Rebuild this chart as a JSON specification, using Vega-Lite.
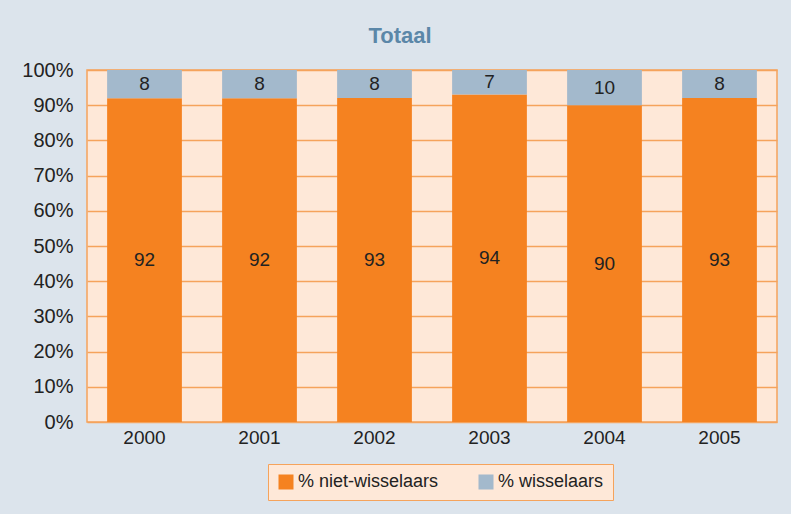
{
  "$schema": "https://vega.github.io/schema/vega-lite/v6.json",
  "width": 690,
  "height": 352,
  "autosize": {"type": "none"},
  "padding": {"left": 87, "top": 70, "right": 14, "bottom": 92},
  "background": "#dce4ec",
  "config": {
    "font": "Liberation Sans",
    "view": {"fill": "#fee8d8", "stroke": "#f5a35c", "strokeWidth": 1.5},
    "axisY": {
      "format": ".0%",
      "values": [0, 0.1, 0.2, 0.3, 0.4, 0.5, 0.6, 0.7, 0.8, 0.9, 1],
      "labelOverlap": false,
      "labelFontSize": 20,
      "labelColor": "#222222",
      "ticks": false,
      "domain": false,
      "labelPadding": 14,
      "gridColor": "#f5a35c",
      "gridWidth": 1.5,
      "gridOpacity": 1
    }
  },
  "title": {
    "text": "Totaal",
    "fontSize": 22,
    "fontWeight": "bold",
    "color": "#5b87a8",
    "anchor": "middle",
    "dx": -32,
    "offset": 12
  },
  "data": {
    "values": [
      {"jaar": "2000", "type": "% niet-wisselaars", "waarde": 92},
      {"jaar": "2000", "type": "% wisselaars", "waarde": 8},
      {"jaar": "2001", "type": "% niet-wisselaars", "waarde": 92},
      {"jaar": "2001", "type": "% wisselaars", "waarde": 8},
      {"jaar": "2002", "type": "% niet-wisselaars", "waarde": 93},
      {"jaar": "2002", "type": "% wisselaars", "waarde": 8},
      {"jaar": "2003", "type": "% niet-wisselaars", "waarde": 94},
      {"jaar": "2003", "type": "% wisselaars", "waarde": 7},
      {"jaar": "2004", "type": "% niet-wisselaars", "waarde": 90},
      {"jaar": "2004", "type": "% wisselaars", "waarde": 10},
      {"jaar": "2005", "type": "% niet-wisselaars", "waarde": 93},
      {"jaar": "2005", "type": "% wisselaars", "waarde": 8}
    ]
  },
  "transform": [
    {
      "stack": "waarde",
      "groupby": ["jaar"],
      "sort": [{"field": "type", "order": "ascending"}],
      "offset": "normalize",
      "as": ["y0", "y1"]
    },
    {"calculate": "(datum.y0 + datum.y1) / 2", "as": "ymid"}
  ],
  "encoding": {
    "x": {
      "field": "jaar",
      "type": "ordinal",
      "title": null,
      "scale": {"paddingInner": 0.35, "paddingOuter": 0.175},
      "axis": {
        "labelAngle": 0,
        "labelFontSize": 19,
        "labelColor": "#222222",
        "ticks": false,
        "domain": false,
        "labelPadding": 6
      }
    }
  },
  "layer": [
    {
      "mark": {"type": "bar"},
      "encoding": {
        "y": {
          "field": "y0",
          "type": "quantitative",
          "title": null,
          "scale": {"domain": [0, 1]}
        },
        "y2": {"field": "y1"},
        "color": {
          "field": "type",
          "type": "nominal",
          "scale": {
            "domain": ["% niet-wisselaars", "% wisselaars"],
            "range": ["#f58220", "#a3b9cc"]
          },
          "legend": {
            "title": null,
            "orient": "none",
            "direction": "horizontal",
            "legendX": 181,
            "legendY": 394,
            "symbolType": "square",
            "symbolSize": 225,
            "symbolStrokeWidth": 0,
            "labelFontSize": 18,
            "labelColor": "#222222",
            "labelOffset": 3,
            "columnPadding": 38,
            "fillColor": "#fee8d8",
            "strokeColor": "#f5a35c",
            "padding": 9,
            "offset": 0
          }
        }
      }
    },
    {
      "mark": {"type": "text", "fontSize": 19, "color": "#222222", "baseline": "middle"},
      "encoding": {
        "y": {"field": "ymid", "type": "quantitative", "title": null},
        "text": {"field": "waarde", "type": "quantitative"}
      }
    }
  ]
}
